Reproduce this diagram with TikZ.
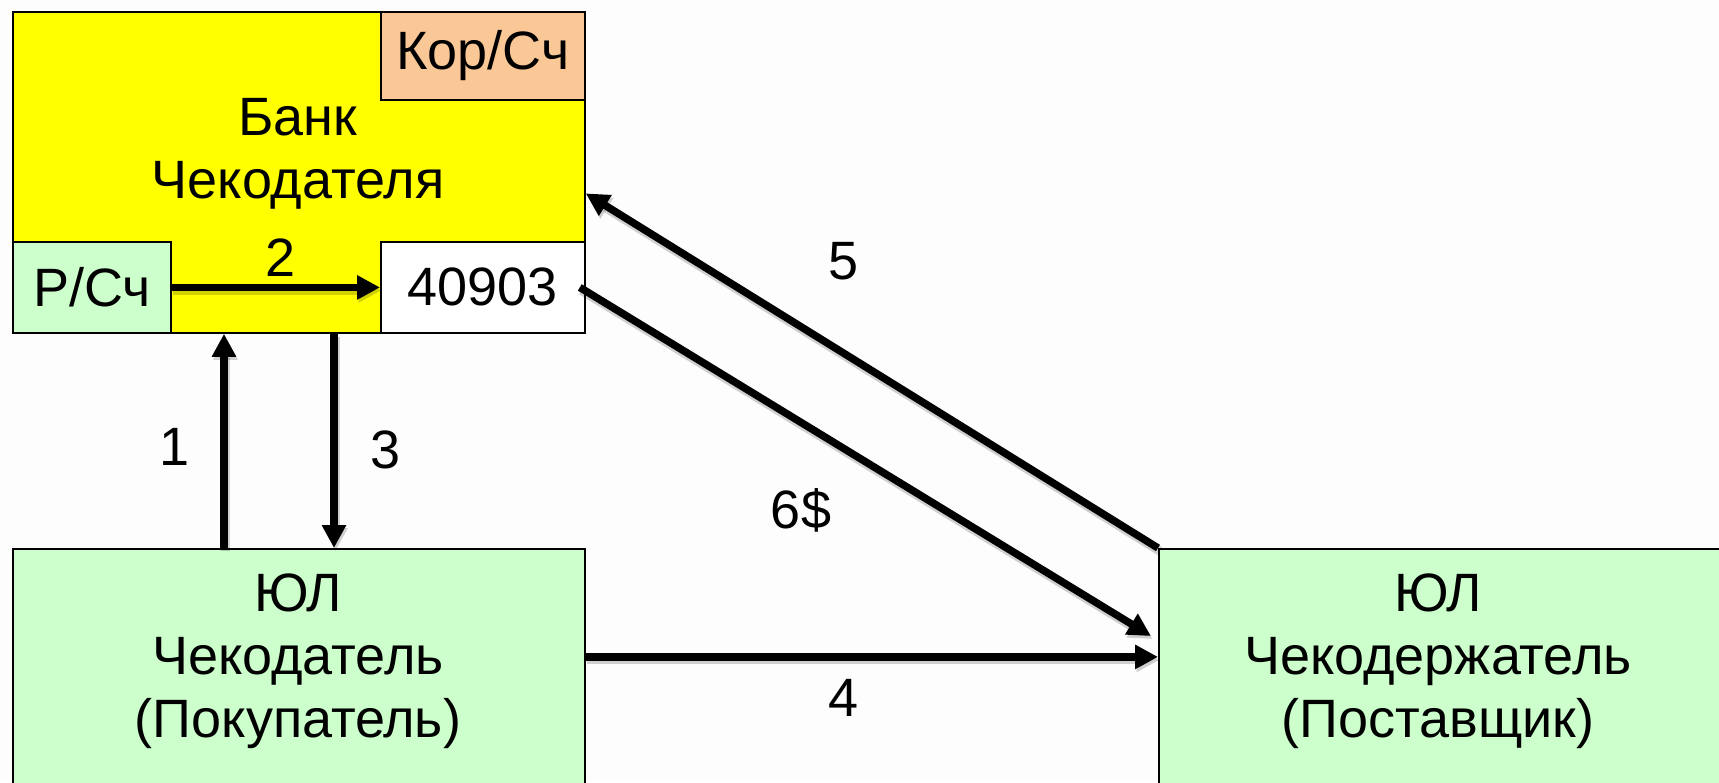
\documentclass[tikz,border=0pt]{standalone}
\usepackage{fontspec}
\setmainfont{Liberation Sans}
\usetikzlibrary{arrows.meta}
\definecolor{bgc}{HTML}{FDFDFD}
\definecolor{bankyellow}{HTML}{FFFF00}
\definecolor{peach}{HTML}{FAC896}
\definecolor{lgreen}{HTML}{CCFFCC}
\begin{document}
\begin{tikzpicture}[x=1pt,y=-1pt,
  box/.style={draw=black,line width=1.8pt,inner sep=0pt,anchor=north west},
  txt/.style={font=\fontsize{54}{63}\selectfont,align=center,inner sep=0pt},
  arr/.style={line width=7.5pt,-{Triangle[length=23pt,width=23pt]},
    preaction={draw=black,opacity=0.18,line width=9pt,transform canvas={shift={(1.5pt,-3pt)}}}}]
\fill[bgc] (0,0) rectangle (1719,782);
\clip (0,0) rectangle (1719,782);
% bank
\node[box,fill=bankyellow,minimum width=572pt,minimum height=321pt] (bank) at (12,11) {};
\node[box,fill=peach,minimum width=204pt,minimum height=88pt] (kor) at (380,11) {};
\node[box,fill=lgreen,minimum width=158pt,minimum height=91pt] (rs) at (12,241) {};
\node[box,fill=white,minimum width=204pt,minimum height=91pt] (acc) at (380,241) {};
\node[txt] (kortxt) at (kor.center) {Кор/Сч};
\node[txt] (banktxt) at (298,154) {Банк\\Чекодателя};
\node[txt] (rstxt) at (rs.center) {Р/Сч};
\node[txt] (acctxt) at (acc.center) {40903};
% legal entities
\node[box,fill=lgreen,minimum width=572pt,minimum height=260pt] (jub) at (12,548) {};
\node[box,fill=lgreen,minimum width=580pt,minimum height=260pt] (jud) at (1158,548) {};
\node[txt] (jubtxt) at (298,661) {ЮЛ\\Чекодатель\\(Покупатель)};
\node[txt] (judtxt) at (1438,661) {ЮЛ\\Чекодержатель\\(Поставщик)};
% connectors
\draw[arr] (rs.east) -- (acc.west);
\draw[arr] ([xshift=212pt]jub.north west) -- ([xshift=212pt]bank.south west);
\draw[arr] ([xshift=322pt]bank.south west) -- ([xshift=322pt]jub.north west);
\draw[arr] ([yshift=22pt]jub.east) -- ([yshift=22pt]jud.west);
\draw[arr] (jud.north west) -- ([yshift=-21pt]bank.east);
\coordinate (tip6) at (1151,636);
\draw[arr] ([xshift=-6pt]acc.east) -- (tip6);
% labels
\node[txt] (l2) at (281,258) {2};
\node[txt] (l1) at (175,447) {1};
\node[txt] (l3) at (386,450) {3};
\node[txt] (l4) at (844,698) {4};
\node[txt] (l5) at (844,261) {5};
\node[txt] (l6) at (801,510) {6\$};
\end{tikzpicture}
\end{document}
